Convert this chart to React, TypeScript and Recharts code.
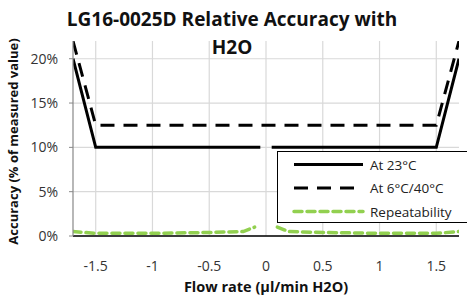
import React from "react";
import {
  LineChart,
  Line,
  XAxis,
  YAxis,
  CartesianGrid,
} from "recharts";

const xTicks = [-1.5, -1, -0.5, 0, 0.5, 1, 1.5];
const yTicks = [0, 0.05, 0.1, 0.15, 0.2];

// At 23°C (break at zero flow)
const roomFlow = [-1.7, -1.5, -1, -0.5, -0.05, 0, 0.05, 0.5, 1, 1.5, 1.7];
const roomAcc = [0.2, 0.1, 0.1, 0.1, 0.1, null, 0.1, 0.1, 0.1, 0.1, 0.2];

// At 6°C/40°C
const extFlow = [-1.7, -1.5, -1, -0.5, 0, 0.5, 1, 1.5, 1.7];
const extAcc = [0.22, 0.125, 0.125, 0.125, 0.125, 0.125, 0.125, 0.125, 0.22];

// Repeatability (break at zero flow)
const repFlow = [-1.7, -1.5, -1, -0.5, -0.2, -0.1, 0, 0.1, 0.2, 0.5, 1, 1.5, 1.7];
const repAcc = [0.005, 0.003, 0.003, 0.004, 0.005, 0.01, null, 0.01, 0.005, 0.004, 0.003, 0.003, 0.005];

const toRows = (xs: number[], ys: (number | null)[]) => xs.map((x, i) => ({ x, y: ys[i] }));

const font = "'Open Sans', sans-serif";

const legendItems = [
  { name: "At 23°C", color: "#000", dash: undefined, width: 3 },
  { name: "At 6°C/40°C", color: "#000", dash: "14 9", width: 3 },
  { name: "Repeatability", color: "#92D050", dash: "8 5", width: 3.5 },
];

const LegendBox = () => (
  <div
    style={{
      position: "absolute",
      left: 277,
      top: 151,
      width: 195,
      height: 72,
      border: "1.5px solid #000",
      background: "#fff",
      boxSizing: "border-box",
    }}
  >
    <svg width={195} height={70} style={{ display: "block" }}>
      {legendItems.map((it, i) => (
        <g key={it.name}>
          <line
            x1={16}
            x2={85}
            y1={12.5 + i * 23.5}
            y2={12.5 + i * 23.5}
            stroke={it.color}
            strokeWidth={it.width}
            strokeDasharray={it.dash}
            strokeLinecap={it.dash === "8 5" ? "round" : "butt"}
          />
          <text
            x={92}
            y={17.5 + i * 23.5}
            fontSize={13.5}
            fontFamily={font}
            fill="#222"
          >
            {it.name}
          </text>
        </g>
      ))}
    </svg>
  </div>
);

export default function App() {
  return (
    <div style={{ position: "absolute", left: 0, top: 0, width: 467, height: 298, background: "#fff", overflow: "hidden" }}>
      <LineChart
        width={467}
        height={298}
        margin={{ top: 41, right: 8, left: 0, bottom: 0 }}
      >
        <CartesianGrid stroke="#d9d9d9" strokeWidth={1.2} horizontalValues={yTicks} verticalValues={xTicks} />
        <XAxis
          type="number"
          dataKey="x"
          domain={[-1.7, 1.7]}
          ticks={xTicks}
          height={62}
          axisLine={{ stroke: "#000", strokeWidth: 1.5 }}
          tickLine={false}
          tickMargin={19}
          tick={{ fill: "#333", fontSize: 14, fontFamily: font }}
          allowDataOverflow
          label={{
            value: "Flow rate (µl/min H2O)",
            position: "insideBottom",
            offset: 6,
            style: { fontFamily: font, fontWeight: 700, fontSize: 14.5, fill: "#111" },
          }}
        />
        <YAxis
          type="number"
          domain={[0, 0.22]}
          ticks={yTicks}
          width={73}
          axisLine={{ stroke: "#888", strokeWidth: 1.2 }}
          tickLine={{ stroke: "#888" }}
          tickSize={4}
          tickMargin={11}
          tickFormatter={(v: number) => `${Math.round(v * 100)}%`}
          tick={{ fill: "#333", fontSize: 14, fontFamily: font }}
          allowDataOverflow
          label={{
            value: "Accuracy (% of measured value)",
            angle: -90,
            position: "insideLeft",
            offset: 13,
            dy: 3,
            style: { fontFamily: font, fontWeight: 700, fontSize: 13, fill: "#111", textAnchor: "middle" },
          }}
        />
        <Line
          name="At 23°C"
          data={toRows(roomFlow, roomAcc)}
          dataKey="y"
          stroke="#000"
          strokeWidth={3}
          dot={false}
          isAnimationActive={false}
        />
        <Line
          name="At 6°C/40°C"
          data={toRows(extFlow, extAcc)}
          dataKey="y"
          stroke="#000"
          strokeWidth={3}
          strokeDasharray="14 9"
          dot={false}
          isAnimationActive={false}
        />
        <Line
          name="Repeatability"
          data={toRows(repFlow, repAcc)}
          dataKey="y"
          stroke="#92D050"
          strokeWidth={3.5}
          strokeDasharray="8 5"
          strokeLinecap="round"
          dot={false}
          isAnimationActive={false}
        />
      </LineChart>
      <div
        style={{
          position: "absolute",
          left: 0,
          top: 5,
          width: 464,
          textAlign: "center",
          fontFamily: font,
          fontWeight: 700,
          fontSize: 19,
          lineHeight: "28px",
          color: "#111",
        }}
      >
        LG16-0025D Relative Accuracy with
        <br />
        H2O
      </div>
      <LegendBox />
    </div>
  );
}
